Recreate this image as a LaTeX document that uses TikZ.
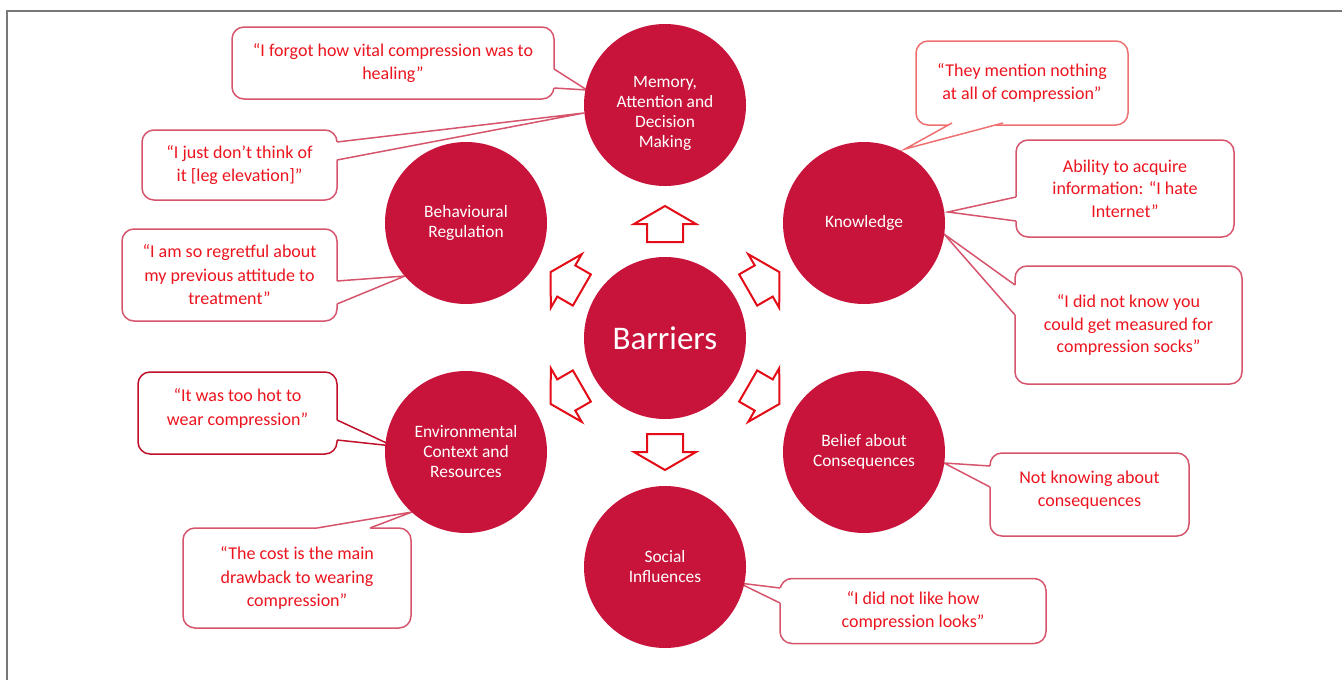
\documentclass[tikz,border=0pt]{standalone}
\usepackage{fontspec}
\setmainfont{Carlito}
\usetikzlibrary{calc}
\definecolor{crimson}{RGB}{200,20,58}
\definecolor{quotered}{RGB}{236,20,30}
\definecolor{calloutline}{RGB}{214,84,108}
\definecolor{calloutlight}{RGB}{238,112,112}
\definecolor{calloutdark}{RGB}{192,16,42}
\definecolor{arrowred}{RGB}{228,12,22}
\definecolor{framegrey}{RGB}{120,120,120}

% pointer of a speech bubble: base points #1,#2 on the box edge, tip #3,
% #4 = small offset into the box, #5 = line colour
\newcommand\bubbletail[5]{%
  \fill[white] ($(#1)+(#4)$) -- (#1) -- (#3) -- (#2) -- ($(#2)+(#4)$) -- cycle;
  \draw[tailline, draw=#5] (#1) -- (#3) -- (#2);}

\begin{document}
\begin{tikzpicture}[x=1pt,y=-1pt,
  circletext/.style={text=white, align=center, font=\fontsize{17.4}{20}\selectfont},
  barrier/.style={circle, fill=crimson, minimum size=162pt, inner sep=0pt, circletext},
  callout/.style={draw=calloutline, line width=1.5pt, rounded corners=12pt,
    fill=white, text=quotered, align=center, inner sep=0pt,
    font=\fontsize{18}{23.5}\selectfont},
  tailline/.style={line width=1.5pt, line join=miter},
  blockarrow/.style={draw=arrowred, fill=white, line width=2pt, line join=miter},
  frameline/.style={draw=framegrey, line width=1.5pt}]

\useasboundingbox (0,0) rectangle (1342,680);
\draw[frameline] (7,680) -- (7,11) -- (1342,11);

% positions of the category circles (drawn last, over the bubble tails)
\coordinate (barC) at (665,338);
\coordinate (memC) at (665,105);
\coordinate (behC) at (466,223);
\coordinate (knoC) at (864,223);
\coordinate (envC) at (466,452);
\coordinate (belC) at (864,452);
\coordinate (socC) at (665,567);

% ---- speech bubbles ----
\node[callout, minimum width=322pt, minimum height=72pt] (q1) at (393,63)
  {“I forgot how vital compression was to\\healing”};
\coordinate (q1a) at (554,69); \coordinate (q1b) at (554,88); \coordinate (q1t) at (587,90);
\bubbletail{q1a}{q1b}{q1t}{-3,0}{calloutline}

\node[callout, minimum width=195pt, minimum height=70pt] (q2) at (239.5,165)
  {“I just don’t think of\\it [leg elevation]”};
\coordinate (q2a) at (337,142); \coordinate (q2b) at (337,160); \coordinate (q2t) at (584,113);
\bubbletail{q2a}{q2b}{q2t}{-3,0}{calloutline}

\node[callout, minimum width=215pt, minimum height=92pt] (q3) at (229.5,275)
  {“I am so regretful about\\my previous attitude to\\treatment”};
\coordinate (q3a) at (337,281); \coordinate (q3b) at (337,304); \coordinate (q3t) at (405,276);
\bubbletail{q3a}{q3b}{q3t}{-3,0}{calloutline}

\node[callout, draw=calloutlight, minimum width=212pt, minimum height=84pt,
      font=\fontsize{18}{22.5}\selectfont] (q4) at (1022,83)
  {“They mention nothing\\at all of compression”};
\coordinate (q4a) at (952,123); \coordinate (q4b) at (1003,123); \coordinate (q4t) at (905,149);
\bubbletail{q4a}{q4b}{q4t}{0,-3}{calloutlight}

\node[callout, minimum width=218pt, minimum height=97pt,
      font=\fontsize{18}{22.5}\selectfont] (q5) at (1125,188.5)
  {Ability to acquire\\information: “I hate\\Internet”};
\coordinate (q5a) at (1016,197); \coordinate (q5b) at (1016,221); \coordinate (q5t) at (948,212);
\bubbletail{q5a}{q5b}{q5t}{3,0}{calloutline}

\node[callout, minimum width=227pt, minimum height=118pt,
      font=\fontsize{18}{22.5}\selectfont] (q6) at (1128.5,325)
  {“I did not know you\\could get measured for\\compression socks”};
\coordinate (q6a) at (1015,285); \coordinate (q6b) at (1015,315); \coordinate (q6t) at (944,234);
\bubbletail{q6a}{q6b}{q6t}{3,0}{calloutline}

\node[callout, draw=calloutdark, minimum width=199pt, minimum height=82pt] (q7) at (237.5,413)
  {“It was too hot to\\wear compression”\\[-12pt]};
\coordinate (q7a) at (337,420); \coordinate (q7b) at (337,440); \coordinate (q7t) at (393,446);
\bubbletail{q7a}{q7b}{q7t}{-3,0}{calloutdark}

\node[callout, minimum width=228pt, minimum height=100pt] (q8) at (297,578)
  {“The cost is the main\\drawback to wearing\\compression”};
\coordinate (q8a) at (317,528); \coordinate (q8b) at (370,528); \coordinate (q8t) at (412,512);
\bubbletail{q8a}{q8b}{q8t}{0,3}{calloutline}

\node[callout, minimum width=199pt, minimum height=83pt] (q9) at (1089.5,494.5)
  {Not knowing about\\consequences\\[-12pt]};
\coordinate (q9a) at (990,466); \coordinate (q9b) at (990,487); \coordinate (q9t) at (944,463);
\bubbletail{q9a}{q9b}{q9t}{3,0}{calloutline}

\node[callout, minimum width=266pt, minimum height=65pt] (q10) at (913,611)
  {“I did not like how\\compression looks”};
\coordinate (q10a) at (780,588); \coordinate (q10b) at (780,603); \coordinate (q10t) at (739,583);
\bubbletail{q10a}{q10b}{q10t}{3,0}{calloutline}

% ---- category circles ----
\node[barrier, label={[circletext, yshift=-8pt]center:{Memory,\\Attention and\\Decision\\Making}}]
  (mem) at (memC) {};
\node[barrier] (beh) at (behC) {Behavioural\\Regulation};
\node[barrier] (kno) at (knoC) {Knowledge};
\node[barrier] (env) at (envC) {Environmental\\Context and\\Resources};
\node[barrier] (bel) at (belC) {Belief about\\Consequences};
\node[barrier] (soc) at (socC) {Social\\Influences};
\node[barrier, font=\fontsize{33}{36}\selectfont] (bar) at (barC) {Barriers};

% ---- outlined block arrows around the centre ----
\foreach \a in {90,150,210,270,330,30} {
  \draw[blockarrow, shift={(bar.center)}, rotate=\a]
    (132pt,0pt) -- (114pt,31pt) -- (114pt,18pt) -- (96pt,18pt) --
    (96pt,-18pt) -- (114pt,-18pt) -- (114pt,-31pt) -- cycle;
}
\end{tikzpicture}
\end{document}
